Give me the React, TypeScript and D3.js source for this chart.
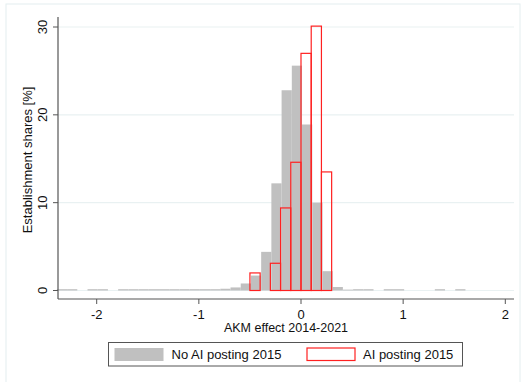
import React from 'react'
import * as d3 from 'd3'

// Histogram bins (left edge, bin width 0.1) – establishments without AI posting in 2015
const noAiEdges = [
  -2.39, -2.29, -2.19, -2.09, -1.99, -1.89, -1.79, -1.69, -1.59, -1.49,
  -1.39, -1.29, -1.19, -1.09, -0.99, -0.89, -0.79, -0.69, -0.59, -0.49,
  -0.39, -0.29, -0.19, -0.09, 0.01, 0.11, 0.21, 0.31, 0.41, 0.51,
  0.61, 0.71, 0.81, 0.91, 1.01, 1.11, 1.21, 1.31, 1.41, 1.51,
]
const noAiShares = [
  0.15, 0.15, 0, 0.15, 0.15, 0, 0.15, 0.15, 0.15, 0.15,
  0.15, 0.15, 0.15, 0.15, 0.15, 0.15, 0.2, 0.35, 0.8, 1.7,
  4.4, 12.2, 22.8, 25.6, 18.9, 10.0, 2.2, 0.4, 0.1, 0.15,
  0.15, 0, 0.15, 0.15, 0, 0, 0, 0.15, 0, 0.15,
]

// Establishments with AI posting in 2015
const aiEdges = [-0.5, -0.4, -0.3, -0.2, -0.1, 0.0, 0.1, 0.2]
const aiShares = [2.0, 0, 3.1, 9.4, 14.6, 27.0, 30.1, 13.5]

const binWidth = 0.1
const xTicks = [-2, -1, 0, 1, 2]
const yTicks = [0, 10, 20, 30]
const legendLabels = ['No AI posting 2015', 'AI posting 2015']

const width = 521
const height = 382
const plotLeft = 58
const plotRight = 514
const plotTop = 17
const plotBottom = 299
const font = '"Liberation Sans", Arial, sans-serif'

export default function App() {
  const x = d3.scaleLinear().domain([-2, 2]).range([96.7, 505.3])
  const y = d3.scaleLinear().domain([0, 30]).range([290.5, 27])

  return (
    <svg
      width={width}
      height={height}
      style={{ position: 'absolute', left: 0, top: 0, background: '#fff' }}
      fontFamily={font}
    >
      {/* graph region frame */}
      <rect x={6} y={4} width={514} height={380} fill="none" stroke="#e4eeef" strokeWidth={1} />

      {/* gridlines */}
      {yTicks.map(t => (
        <line
          key={'g' + t}
          x1={plotLeft}
          x2={plotRight}
          y1={y(t)}
          y2={y(t)}
          stroke="#e9f1f2"
          strokeWidth={1.2}
        />
      ))}

      {/* grey bars */}
      {noAiShares.map((v, i) =>
        v > 0 ? (
          <rect
            key={'n' + i}
            x={x(noAiEdges[i])}
            y={y(v)}
            width={x(noAiEdges[i] + binWidth) - x(noAiEdges[i])}
            height={y(0) - y(v)}
            fill="#c0c0c0"
          />
        ) : null
      )}

      {/* red outlined bars */}
      {aiShares.map((v, i) =>
        v > 0 ? (
          <rect
            key={'a' + i}
            x={x(aiEdges[i])}
            y={y(v)}
            width={x(aiEdges[i] + binWidth) - x(aiEdges[i])}
            height={y(0) - y(v)}
            fill="none"
            stroke="#ff2020"
            strokeWidth={1.2}
          />
        ) : null
      )}

      {/* y axis */}
      <line x1={plotLeft} x2={plotLeft} y1={plotTop} y2={plotBottom} stroke="#555" strokeWidth={1.2} />
      {yTicks.map(t => (
        <g key={'y' + t}>
          <line x1={plotLeft - 5} x2={plotLeft} y1={y(t)} y2={y(t)} stroke="#555" strokeWidth={1} />
          <text
            transform={`translate(46.5,${y(t)}) rotate(-90)`}
            textAnchor="middle"
            fontSize={13}
            fill="#111"
          >
            {t}
          </text>
        </g>
      ))}
      <text
        transform={`translate(31.5,160) rotate(-90)`}
        textAnchor="middle"
        fontSize={13}
        fill="#111"
      >
        Establishment shares [%]
      </text>

      {/* x axis */}
      <line x1={plotLeft} x2={plotRight} y1={plotBottom} y2={plotBottom} stroke="#555" strokeWidth={1.2} />
      {xTicks.map(t => (
        <g key={'x' + t}>
          <line x1={x(t)} x2={x(t)} y1={plotBottom} y2={plotBottom + 5} stroke="#555" strokeWidth={1} />
          <text x={x(t)} y={318.5} textAnchor="middle" fontSize={13} fill="#111">
            {t}
          </text>
        </g>
      ))}
      <text x={(plotLeft + plotRight) / 2} y={332} textAnchor="middle" fontSize={12.5} fill="#111">
        AKM effect 2014-2021
      </text>

      {/* legend */}
      <rect x={108.5} y={342.5} width={354} height={23.5} fill="#fff" stroke="#555" strokeWidth={1} />
      <rect x={114.5} y={348} width={49} height={13} fill="#c0c0c0" />
      <text x={171.5} y={359} fontSize={13} fill="#111">
        {legendLabels[0]}
      </text>
      <rect x={307} y={348} width={48} height={12.5} fill="#fff" stroke="#ff2020" strokeWidth={1.2} />
      <text x={363} y={359} fontSize={13} fill="#111">
        {legendLabels[1]}
      </text>
    </svg>
  )
}
